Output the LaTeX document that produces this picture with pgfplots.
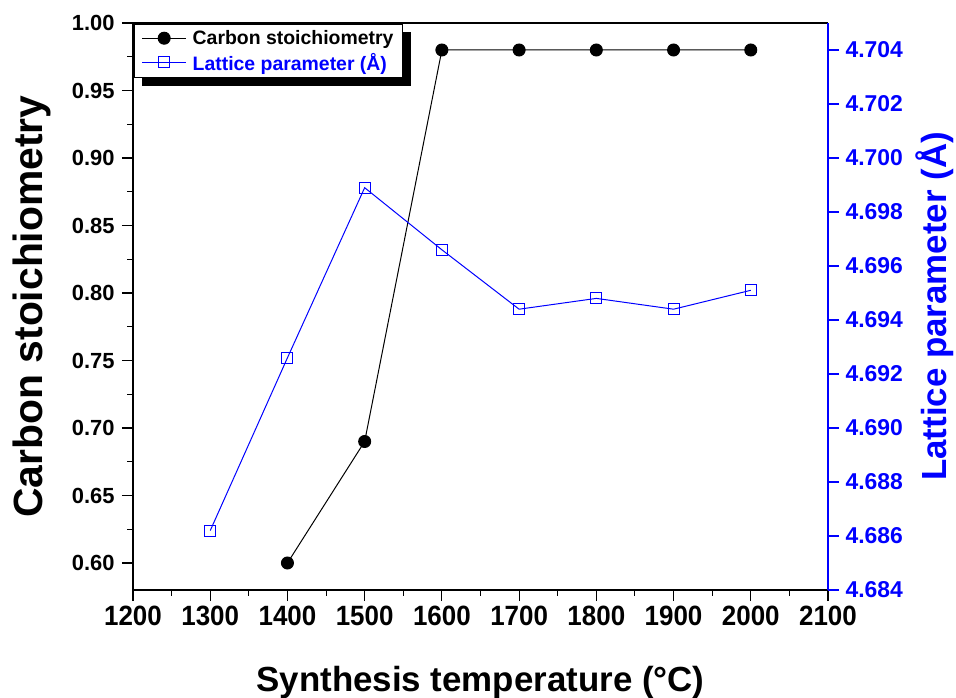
\documentclass[border=0pt]{standalone}
\usepackage{pgfplots}
\pgfplotsset{compat=1.18}
\usepackage{fontspec}
\setmainfont{Liberation Sans}
\newfontfamily\narrowfont[FakeStretch=0.93]{Liberation Sans}
\definecolor{lblue}{RGB}{0,0,255}
\pgfdeclarelayer{background}
\pgfsetlayers{background,main}
\begin{document}
\begin{tikzpicture}
\pgfplotsset{
  every axis/.append style={
    scale only axis, width=695bp, height=567bp,
    xmin=1200, xmax=2100,
    /pgf/number format/assume math mode=true,
    tick align=outside,
    major tick length=11bp, minor tick length=5.5bp,
    every tick/.style={line width=1.1pt},
    axis line style={line width=1.1pt},
  }
}
\begin{axis}[
  axis y line*=left,
  axis x line*=bottom,
  ymin=0.58, ymax=1.00,
  ytick={0.60,0.65,...,1.001},
  minor y tick num=1,
  xtick={1200,1300,...,2100},
  minor x tick num=1,
  yticklabel style={font=\bfseries\fontsize{22}{22}\selectfont, xshift=-4bp, /pgf/number format/.cd, fixed, fixed zerofill, precision=2},
  xticklabel style={font=\narrowfont\bfseries\fontsize{28}{28}\selectfont, yshift=-2bp, /pgf/number format/.cd, 1000 sep={}},
  ylabel={Carbon stoichiometry},
  xlabel={Synthesis temperature (°C)},
  ylabel style={font=\bfseries\fontsize{41}{41}\selectfont, at={(axis description cs:-0.1453,0.5)}, anchor=center},
  xlabel style={font=\bfseries\fontsize{35}{35}\selectfont, at={(axis description cs:0.5,0)}, yshift=-92bp, anchor=center},
  legend style={at={(rel axis cs:0.002,0.998)}, anchor=north west, font=\bfseries\fontsize{19.5}{22}\selectfont,
    draw=black, line width=0.6pt, fill=white, inner xsep=7bp, inner ysep=4bp,
    row sep=3bp, column sep=4bp, name=leg,
    legend cell align=left},
  legend image code/.code={\draw[mark repeat=2, mark phase=2, #1] plot coordinates {(0bp,0bp) (22bp,0bp) (44bp,0bp)};},
]
\coordinate (BL) at (rel axis cs:0,0);
\coordinate (TR) at (rel axis cs:1,1);
\addplot[black, line width=1pt, mark=*, mark size=6bp] coordinates {
  (1400,0.60) (1500,0.69) (1600,0.98) (1700,0.98) (1800,0.98) (1900,0.98) (2000,0.98)
};
\addlegendentry{Carbon stoichiometry}
\addlegendimage{lblue, line width=1pt, mark=square, mark size=5.5bp, mark options={fill=white}}
\addlegendentry{\textcolor{lblue}{Lattice parameter (Å)}}
\draw[line width=1.1pt] (rel axis cs:0,1) -- (rel axis cs:1,1);
\end{axis}
\begin{axis}[
  axis y line*=right,
  axis x line=none,
  ymin=4.684, ymax=4.705,
  ytick={4.684,4.686,...,4.7045},
  minor y tick num=1,
  y axis line style={lblue},
  ytick style={lblue},
  yticklabel style={lblue, font=\bfseries\fontsize{23}{23}\selectfont, xshift=3bp, /pgf/number format/.cd, fixed, fixed zerofill, precision=3},
  ylabel={Lattice parameter (Å)},
  ylabel style={lblue, font=\bfseries\fontsize{35}{35}\selectfont, inner sep=0pt, at={(axis description cs:1.154,0.5)}, anchor=center},
]
\addplot[lblue, line width=1pt, mark=square, mark size=5.5bp, mark options={fill=white}] coordinates {
  (1300,4.6862) (1400,4.6926) (1500,4.6989) (1600,4.6966) (1700,4.6944) (1800,4.6948) (1900,4.6944) (2000,4.6951)
};
\end{axis}
\begin{pgfonlayer}{background}
\fill[black] ([shift={(8bp,-8bp)}]leg.south west) rectangle ([shift={(8bp,-8bp)}]leg.north east);
\end{pgfonlayer}
\pgfresetboundingbox
\path ([shift={(-133bp,-108bp)}]BL) rectangle ([shift={(128bp,23bp)}]TR);
\end{tikzpicture}
\end{document}
